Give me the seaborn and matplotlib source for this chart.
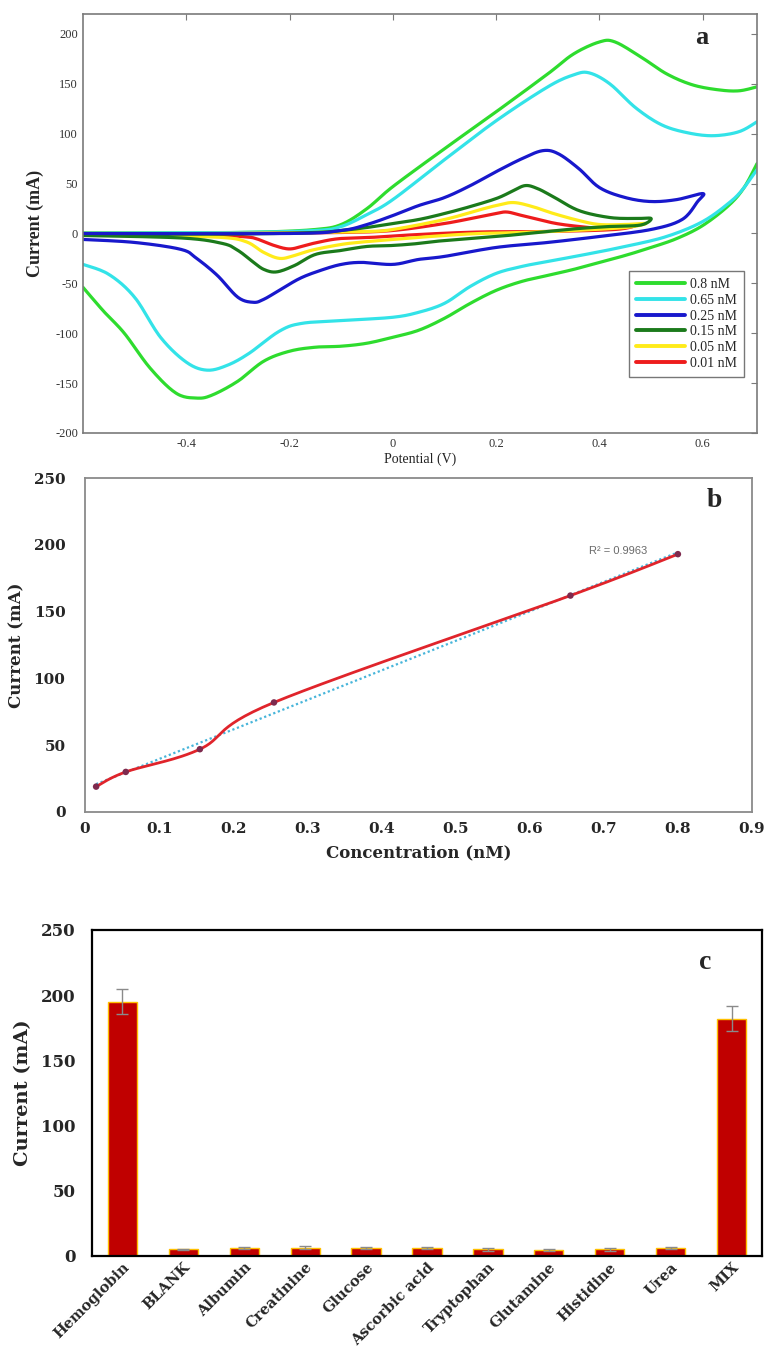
import numpy as np
import pandas as pd
import matplotlib
matplotlib.use("Agg")
import matplotlib.pyplot as plt
from matplotlib.lines import Line2D
from matplotlib.ticker import FuncFormatter
import seaborn as sns

# ---------------- Panel a: cyclic voltammograms ----------------
cv_labels = ["0.8 nM", "0.65 nM", "0.25 nM", "0.15 nM", "0.05 nM", "0.01 nM"]
cv_colors = ["#2EDC2E", "#33E3E8", "#1818CC", "#1B7A1B", "#FFEB1A", "#EE1C1C"]

# 0.8 nM (forward and reverse sweeps both leave the window)
v08_fwd = [-0.60, -0.40, -0.25, -0.15, -0.10, -0.05, 0.00, 0.10, 0.20, 0.30, 0.35, 0.40, 0.43, 0.48, 0.53, 0.58, 0.63, 0.67, 0.705]
i08_fwd = [0.5, 0.5, 1.5, 4, 9, 25, 47, 85, 122, 160, 180, 192, 192, 177, 160, 149, 144, 143, 147]
v08_rev = [0.705, 0.68, 0.65, 0.60, 0.55, 0.50, 0.45, 0.40, 0.35, 0.30, 0.25, 0.20, 0.15, 0.10, 0.05, 0.00, -0.05, -0.10, -0.15, -0.20, -0.25, -0.30, -0.35, -0.38, -0.42, -0.47, -0.52, -0.56, -0.60]
i08_rev = [70, 46, 28, 8, -5, -14, -22, -29, -36, -42, -48, -57, -70, -85, -97, -104, -110, -113, -114, -118, -128, -148, -162, -165, -160, -135, -100, -78, -54]

# 0.65 nM
v065_fwd = [-0.60, -0.30, -0.15, -0.10, -0.05, 0.00, 0.10, 0.20, 0.30, 0.35, 0.38, 0.42, 0.47, 0.52, 0.57, 0.62, 0.67, 0.705]
i065_fwd = [0, 1, 3, 7, 19, 34, 74, 113, 147, 159, 161, 150, 126, 109, 101, 98, 102, 112]
v065_rev = [0.705, 0.68, 0.654, 0.60, 0.53, 0.45, 0.363, 0.30, 0.25, 0.20, 0.15, 0.10, 0.05, 0.00, -0.09, -0.175, -0.22, -0.278, -0.32, -0.36, -0.40, -0.45, -0.50, -0.55, -0.60]
i065_rev = [64, 46, 32, 12, -3, -13, -22, -28, -33, -40, -53, -70, -79, -84, -87, -90, -98, -120, -132, -137, -129, -104, -64, -41, -31]

# 0.25 nM (loop with vertex at 0.6 V)
v025 = [-0.60, -0.20, -0.10, -0.05, 0.00, 0.05, 0.10, 0.15, 0.20, 0.25, 0.29, 0.32, 0.36, 0.40, 0.45, 0.50, 0.55, 0.60,
        0.59, 0.56, 0.50, 0.40, 0.30, 0.20, 0.10, 0.05, 0.00, -0.06, -0.10, -0.14, -0.18, -0.22, -0.25, -0.27, -0.30, -0.34, -0.38, -0.41, -0.50, -0.60]
i025 = [0, 0, 3, 9, 18, 28, 36, 48, 62, 75, 83, 80, 65, 46, 36, 32, 34, 40,
        32, 14, 4, -3, -9, -14, -23, -26, -31, -29, -31, -37, -45, -57, -66, -69, -64, -42, -25, -16, -9, -6]

# 0.15 nM (vertex at 0.5 V)
v015 = [-0.60, -0.30, -0.15, -0.10, -0.05, 0.00, 0.05, 0.10, 0.15, 0.20, 0.23, 0.256, 0.28, 0.31, 0.36, 0.42, 0.47, 0.50,
        0.48, 0.42, 0.36, 0.30, 0.233, 0.15, 0.10, 0.05, 0.00, -0.05, -0.10, -0.15, -0.19, -0.225, -0.25, -0.272, -0.30, -0.33, -0.41, -0.60]
i015 = [-1, -0.5, 1, 3, 6, 10, 14, 20, 27, 35, 42, 48, 45, 37, 23, 16, 15, 15,
        8.5, 7, 5, 2, -1.5, -5, -7, -10, -12, -13, -17, -21, -32, -38.5, -36, -28, -17, -10, -4.5, -2]

# 0.05 nM (vertex near 0.49 V)
v005 = [-0.60, -0.30, -0.15, -0.05, 0.00, 0.10, 0.17, 0.20, 0.233, 0.27, 0.311, 0.36, 0.40, 0.45, 0.49,
        0.45, 0.35, 0.25, 0.169, 0.10, 0.00, -0.058, -0.10, -0.155, -0.19, -0.219, -0.25, -0.283, -0.33, -0.45, -0.60]
i005 = [-0.5, 0, 1, 2, 4, 14, 24, 28, 31, 27, 20, 13, 9, 9, 10,
        6, 3, 1, 0, -2, -6, -8.5, -11, -16.5, -22, -25, -19, -8.5, -4, -2.5, -1.5]

# 0.01 nM (vertex near 0.47 V)
v001 = [-0.60, -0.30, -0.10, 0.00, 0.10, 0.16, 0.20, 0.221, 0.25, 0.311, 0.36, 0.396, 0.44, 0.47,
        0.43, 0.30, 0.169, 0.05, -0.025, -0.10, -0.142, -0.17, -0.20, -0.23, -0.26, -0.283, -0.35, -0.60]
i001 = [-0.5, 0, 1, 3, 10, 16, 20, 21.5, 18, 10.5, 7, 5.5, 6, 8,
        4, 2, 1.5, -1, -3.5, -5, -8.5, -12, -15.5, -12, -6, -3.5, -2, -1]

# ---------------- Panel b: calibration ----------------
conc_nM = [0.015, 0.055, 0.155, 0.255, 0.655, 0.80]
peak_current = [19, 30, 47, 82, 162, 193]
r2_text = "R\u00b2 = 0.9963"

# ---------------- Panel c: selectivity ----------------
species = ["Hemoglobin", "BLANK", "Albumin", "Creatinine", "Glucose", "Ascorbic acid",
           "Tryptophan", "Glutamine", "Histidine", "Urea", "MIX"]
response = [195, 5, 6, 6.5, 6, 6, 5, 4.5, 5, 6, 182]
response_err = [9.5, 0.6, 0.6, 1.2, 0.8, 0.6, 1.0, 0.5, 1.0, 0.7, 9.5]


def bezier_smooth(x, y, n=14):
    """Render a polyline through the read points as a smooth Catmull-Rom/Bezier path."""
    P = np.column_stack([x, y]).astype(float)
    m = len(P)
    out = []
    for k in range(m - 1):
        p0 = P[k - 1] if k > 0 else P[k]
        p1, p2 = P[k], P[k + 1]
        p3 = P[k + 2] if k + 2 < m else P[k + 1]
        c1 = p1 + (p2 - p0) / 6.0
        c2 = p2 - (p3 - p1) / 6.0
        t = np.linspace(0, 1, n, endpoint=(k == m - 2))[:, None]
        out.append((1 - t) ** 3 * p1 + 3 * (1 - t) ** 2 * t * c1 + 3 * (1 - t) * t ** 2 * c2 + t ** 3 * p2)
    return np.vstack(out)


sns.set_style("white")
plt.rcParams["font.family"] = ["Liberation Serif", "DejaVu Serif"]
plt.rcParams["axes.unicode_minus"] = False

W, H = 767, 1353
fig = plt.figure(figsize=(W / 100, H / 100), dpi=100)


def fig_axes(l, t, r, b):
    return fig.add_axes([l / W, 1 - b / H, (r - l) / W, (b - t) / H])


# ================= Panel a =================
axa = fig_axes(83, 14, 757, 433)
cv_series = [
    ([(v08_fwd, i08_fwd), (v08_rev, i08_rev)], 0),
    ([(v065_fwd, i065_fwd), (v065_rev, i065_rev)], 1),
    ([(v001, i001)], 5),
    ([(v005, i005)], 4),
    ([(v015, i015)], 3),
    ([(v025, i025)], 2),
]
for parts, idx in cv_series:
    for vv, ii in parts:
        s = bezier_smooth(vv, ii)
        sns.lineplot(x=s[:, 0], y=s[:, 1], sort=False, estimator=None,
                     color=cv_colors[idx], lw=2.3, ax=axa)

axa.set_xlim(-0.6, 0.705)
axa.set_ylim(-200, 220)
axa.set_xticks([-0.4, -0.2, 0, 0.2, 0.4, 0.6])
axa.set_yticks(np.arange(-200, 201, 50))
fmt = FuncFormatter(lambda v, p: f"{v:g}")
axa.xaxis.set_major_formatter(fmt)
axa.yaxis.set_major_formatter(fmt)
axa.tick_params(direction="in", top=True, right=True, length=4, width=0.8,
                color="#7a7a7a", labelcolor="#333333", labelsize=9)
for sp in axa.spines.values():
    sp.set_color("#7a7a7a")
    sp.set_linewidth(1.2)
axa.set_xlabel("Potential (V)", fontsize=10, color="#222222", labelpad=2)
axa.set_ylabel("Current (mA)", fontsize=13, fontweight="bold", labelpad=8)
axa.text(0.918, 0.945, "a", transform=axa.transAxes, fontsize=19, fontweight="bold",
         ha="center", va="center")
handles = [Line2D([0], [0], color=cv_colors[k], lw=2.8) for k in range(6)]
leg = axa.legend(handles, cv_labels, loc="lower right", bbox_to_anchor=(0.981, 0.134),
                 fontsize=10, frameon=True, fancybox=False, handlelength=3.5,
                 labelspacing=0.2, borderpad=0.5, handletextpad=0.4, borderaxespad=0)
leg.get_frame().set_edgecolor("#555555")
leg.get_frame().set_linewidth(1.0)

# ================= Panel b =================
axb = fig_axes(85, 478, 752, 812)
sns.regplot(x=conc_nM, y=peak_current, ci=None, scatter=False, ax=axb,
            line_kws=dict(color="#47B5DA", ls=(0, (1, 1.2)), lw=1.6))
sb = bezier_smooth(conc_nM, peak_current, n=30)
sns.lineplot(x=sb[:, 0], y=sb[:, 1], sort=False, estimator=None, color="#E0242B", lw=2.0, ax=axb)
sns.scatterplot(x=conc_nM, y=peak_current, color="#7E2A4E", s=22, edgecolor="none", ax=axb, zorder=5)
axb.text(0.68, 195, r2_text, fontsize=8, color="#6a6a6a", family=["Liberation Sans", "DejaVu Sans"],
         ha="left", va="center")
axb.set_xlim(0, 0.9)
axb.set_ylim(0, 250)
axb.set_xticks(np.round(np.arange(0, 0.91, 0.1), 1))
axb.set_yticks(np.arange(0, 251, 50))
axb.xaxis.set_major_formatter(fmt)
for sp in axb.spines.values():
    sp.set_color("#8a8a8a")
    sp.set_linewidth(1.3)
axb.tick_params(length=0, labelsize=11)
axb.tick_params(axis="x", pad=7)
axb.tick_params(axis="y", pad=14)
for lab in axb.get_xticklabels() + axb.get_yticklabels():
    lab.set_fontweight("bold")
    lab.set_family(["DejaVu Serif"])
axb.set_xlabel("Concentration (nM)", fontsize=12, fontweight="bold", family=["DejaVu Serif"], labelpad=6)
axb.set_ylabel("Current (mA)", fontsize=12, fontweight="bold", family=["DejaVu Serif"], labelpad=6)
axb.text(0.944, 0.934, "b", transform=axb.transAxes, fontsize=20, fontweight="bold",
         ha="center", va="center")

# ================= Panel c =================
axc = fig_axes(92, 930, 762, 1256)
sns.barplot(x=species, y=response, color="#C00000", edgecolor="#FFC000", linewidth=1.0,
            width=0.48, saturation=1, ax=axc, errorbar=None)
axc.errorbar(np.arange(len(species)), response, yerr=response_err, fmt="none",
             ecolor="#8a8a8a", elinewidth=1.0, capsize=4, capthick=1.0, zorder=5)
axc.set_xlim(-0.5, len(species) - 0.5)
axc.set_ylim(0, 250)
axc.set_yticks(np.arange(0, 251, 50))
for sp in axc.spines.values():
    sp.set_color("black")
    sp.set_linewidth(1.6)
axc.tick_params(length=0)
axc.tick_params(axis="y", labelsize=12, pad=12)
axc.tick_params(axis="x", labelsize=10.5, pad=3)
for lab in axc.get_yticklabels():
    lab.set_fontweight("bold")
    lab.set_family(["DejaVu Serif"])
for lab in axc.get_xticklabels():
    lab.set_fontweight("bold")
    lab.set_family(["DejaVu Serif"])
    lab.set_rotation(45)
    lab.set_ha("right")
    lab.set_rotation_mode("anchor")
axc.set_xlabel("")
axc.set_ylabel("Current (mA)", fontsize=14, fontweight="bold", family=["DejaVu Serif"], labelpad=6)
axc.text(0.915, 0.9, "c", transform=axc.transAxes, fontsize=20, fontweight="bold",
         ha="center", va="center")

fig.savefig("out.png", dpi=100)
